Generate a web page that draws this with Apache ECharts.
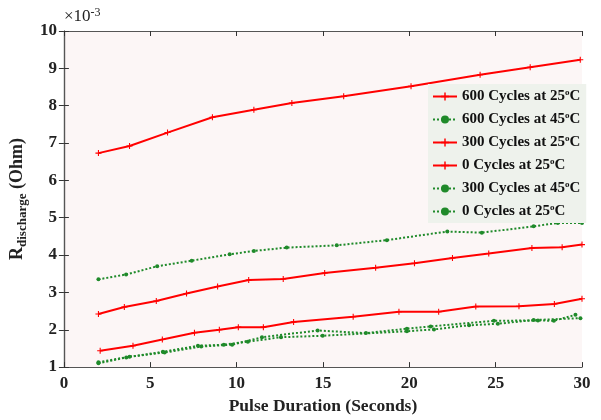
<!DOCTYPE html>
<html><head><meta charset="utf-8">
<script src="https://cdn.jsdelivr.net/npm/echarts@6/dist/echarts.min.js"></script>
<style>html,body{margin:0;padding:0;background:#fff}#c{width:601px;height:420px}</style>
</head><body><div id="c"></div>
<script>
// Data (x = pulse duration in seconds, y = R_discharge ×10^-3 Ohm)
const xTicks = [0, 5, 10, 15, 20, 25, 30];
const yTicks = [1, 2, 3, 4, 5, 6, 7, 8, 9, 10];
const seriesNames = ['600 Cycles at 25', '600 Cycles at 45', '300 Cycles at 25', '0 Cycles at 25', '300 Cycles at 45', '0 Cycles at 25 '];
const c600_25 = [[2.0,6.73],[3.8,6.92],[6.0,7.28],[8.6,7.69],[11.0,7.89],[13.2,8.07],[16.2,8.25],[20.1,8.52],[24.1,8.83],[27.0,9.03],[29.9,9.23]];
const c600_45 = [[2.0,3.35],[3.6,3.48],[5.4,3.70],[7.4,3.85],[9.6,4.02],[11.0,4.11],[12.9,4.20],[15.8,4.26],[18.7,4.40],[22.2,4.63],[24.2,4.60],[27.2,4.77],[28.6,4.86],[30.0,4.86]];
const c300_25 = [[2.0,2.42],[3.5,2.61],[5.35,2.77],[7.1,2.97],[8.9,3.16],[10.7,3.33],[12.7,3.36],[15.1,3.52],[18.05,3.66],[20.3,3.78],[22.5,3.92],[24.6,4.04],[27.1,4.19],[28.85,4.21],[30.0,4.28]];
const c0_25 = [[2.1,1.44],[4.0,1.57],[5.7,1.74],[7.56,1.92],[9.0,2.00],[10.1,2.07],[11.55,2.07],[13.3,2.21],[16.75,2.35],[19.4,2.48],[21.7,2.48],[23.85,2.62],[26.35,2.63],[28.4,2.69],[30.0,2.83]];
const c300_45 = [[2.0,1.13],[3.8,1.28],[5.83,1.39],[7.95,1.55],[9.74,1.60],[11.47,1.80],[14.69,1.98],[17.49,1.91],[19.86,2.03],[21.24,2.09],[24.9,2.24],[27.45,2.25],[28.37,2.24],[29.62,2.40]];
const c0_25g = [[2.0,1.10],[3.61,1.26],[5.73,1.41],[7.76,1.57],[9.26,1.60],[10.65,1.68],[12.57,1.80],[14.98,1.84],[19.86,1.96],[21.43,2.01],[23.46,2.12],[25.13,2.16],[27.2,2.26],[29.91,2.31]];

const RED = '#ff0000', GREEN = '#1f8a2a';
const FONT = '"Liberation Serif", "DejaVu Serif", serif';
const plus = 'path://M-0.18,-1H0.18V-0.18H1V0.18H0.18V1H-0.18V0.18H-1V-0.18H-0.18Z';

function redSeries(name, data) {
  return { name, type: 'line', data, xAxisIndex: 0, yAxisIndex: 0,
    symbol: plus, symbolSize: 6, showSymbol: true,
    lineStyle: { color: RED, width: 2 }, itemStyle: { color: RED } };
}
function greenSeries(name, data) {
  return { name, type: 'line', data, xAxisIndex: 0, yAxisIndex: 0,
    symbol: 'circle', symbolSize: 4,
    lineStyle: { color: GREEN, width: 2, type: [2, 2] }, itemStyle: { color: GREEN } };
}

const chart = echarts.init(document.getElementById('c'), null, { renderer: 'canvas' });
const axisLine = { show: true, lineStyle: { color: '#555', width: 1.2 } };
const tickStyle = { show: true, inside: true, length: 5, lineStyle: { color: '#333' } };
const labelStyle = { fontFamily: FONT, fontWeight: 'bold', fontSize: 17, color: '#222' };

chart.setOption({
  backgroundColor: '#fff',
  animation: false,
  grid: { left: 63, right: 19, top: 31, bottom: 51, show: true, backgroundColor: '#fcf6f6', borderWidth: 0 },
  graphic: [{
    type: 'text', left: 64, top: 7,
    style: { text: '{a|×10}{s|-3}', rich: {
      a: { fontFamily: FONT, fontSize: 17, fill: '#222', lineHeight: 20 },
      s: { fontFamily: FONT, fontSize: 12, fill: '#222', verticalAlign: 'top' } } }
  }],
  legend: {
    orient: 'vertical', left: 428, top: 84, padding: [4, 6, 4, 4], itemGap: 7,
    itemWidth: 24, itemHeight: 10, backgroundColor: '#eef2ec',
    data: seriesNames,
    formatter: n => '{a|' + n.trim() + '}{s|o}{a|C}',
    textStyle: { rich: {
      a: { fontFamily: FONT, fontWeight: 'bold', fontSize: 15, color: '#111', lineHeight: 17 },
      s: { fontFamily: FONT, fontWeight: 'bold', fontSize: 9, color: '#111', verticalAlign: 'top' } } }
  },
  xAxis: [
    { type: 'value', min: 0, max: 30, interval: 5, position: 'bottom',
      name: 'Pulse Duration (Seconds)', nameLocation: 'middle', nameGap: 27,
      nameTextStyle: { fontFamily: FONT, fontWeight: 'bold', fontSize: 17.5, color: '#222' },
      axisLine, axisTick: tickStyle, axisLabel: Object.assign({ margin: 8 }, labelStyle), splitLine: { show: false } },
    { type: 'value', min: 0, max: 30, interval: 5, position: 'top',
      axisLine, axisTick: tickStyle, axisLabel: { show: false }, splitLine: { show: false } }
  ],
  yAxis: [
    { type: 'value', min: 1, max: 10, interval: 1, position: 'left',
      name: '{b|R}{s|discharge}{b| (Ohm)}', nameLocation: 'middle', nameGap: 22, nameRotate: 90,
      nameTextStyle: { rich: {
        b: { fontFamily: FONT, fontWeight: 'bold', fontSize: 18, color: '#222', lineHeight: 24 },
        s: { fontFamily: FONT, fontWeight: 'bold', fontSize: 13, color: '#222', verticalAlign: 'bottom' } } },
      axisLine, axisTick: tickStyle, axisLabel: Object.assign({ margin: 7 }, labelStyle), splitLine: { show: false } },
    { type: 'value', min: 1, max: 10, interval: 1, position: 'right',
      axisLine, axisTick: tickStyle, axisLabel: { show: false }, splitLine: { show: false } }
  ],
  series: [
    redSeries(seriesNames[0], c600_25),
    greenSeries(seriesNames[1], c600_45),
    redSeries(seriesNames[2], c300_25),
    redSeries(seriesNames[3], c0_25),
    greenSeries(seriesNames[4], c300_45),
    greenSeries(seriesNames[5], c0_25g)
  ]
});
</script></body></html>
